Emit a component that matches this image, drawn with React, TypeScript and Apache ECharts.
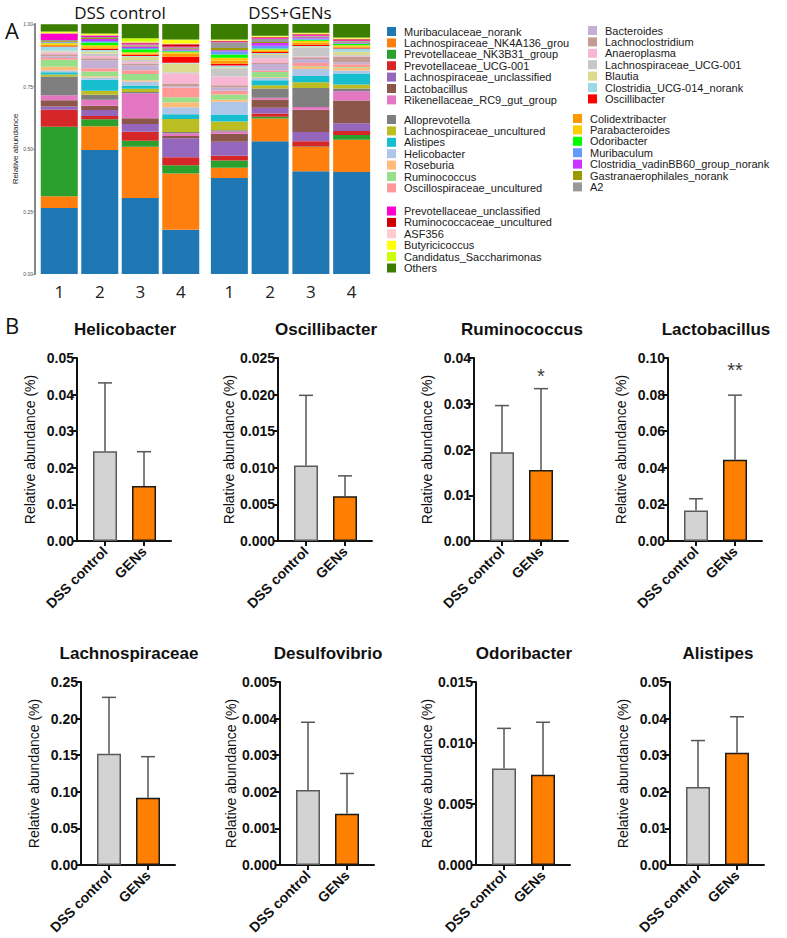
import React, { useEffect, useRef } from 'react';
import * as echarts from 'echarts';

// ---------- Panel A: stacked composition ----------
const taxa = [
  'Muribaculaceae_norank', 'Lachnospiraceae_NK4A136_grou', 'Prevotellaceae_NK3B31_group', 'Prevotellaceae_UCG-001',
  'Lachnospiraceae_unclassified', 'Lactobacillus', 'Rikenellaceae_RC9_gut_group',
  'Alloprevotella', 'Lachnospiraceae_uncultured', 'Alistipes', 'Helicobacter', 'Roseburia', 'Ruminococcus',
  'Oscillospiraceae_uncultured',
  'Bacteroides', 'Lachnoclostridium', 'Anaeroplasma', 'Lachnospiraceae_UCG-001', 'Blautia',
  'Clostridia_UCG-014_norank', 'Oscillibacter',
  'Colidextribacter', 'Parabacteroides', 'Odoribacter', 'Muribaculum', 'Clostridia_vadinBB60_group_norank',
  'Gastranaerophilales_norank', 'A2',
  'Prevotellaceae_unclassified', 'Ruminococcaceae_uncultured', 'ASF356', 'Butyricicoccus',
  'Candidatus_Saccharimonas', 'Others',
];
const taxaColors = [
  '#1f77b4', '#ff7f0e', '#2ca02c', '#d62728', '#9467bd', '#8c564b', '#e377c2',
  '#7f7f7f', '#bcbd22', '#17becf', '#aec7e8', '#ffbb78', '#98df8a', '#ff9896',
  '#c5b0d5', '#c49c94', '#f7b6d2', '#c7c7c7', '#dbdb8d', '#9edae5', '#ff0000',
  '#ff9900', '#ffcc00', '#00ff00', '#6699ff', '#cc33ff', '#999900', '#999999',
  '#ff00cc', '#cc0000', '#ffcccc', '#ffff00', '#ccff00', '#3a7d00',
];
const sampleLabels = ['1', '2', '3', '4'];
const groupTitles = ['DSS control', 'DSS+GENs'];

const dss1 = [0.264, 0.047, 0.278, 0.068, 0.013, 0.025, 0.020,
  0.075, 0.008, 0.009, 0.007, 0.015, 0.028, 0.007,
  0.007, 0.008, 0.008, 0.003, 0.003, 0.016, 0.002,
  0.006, 0.006, 0.002, 0.002, 0.002, 0.003, 0.004,
  0.024, 0.002, 0.002, 0.003, 0.003, 0.029];
const dss2 = [0.496, 0.095, 0.028, 0.013, 0.024, 0.017, 0.024,
  0.020, 0.016, 0.044, 0.009, 0.005, 0.019, 0.013,
  0.032, 0.008, 0.009, 0.010, 0.008, 0.006, 0.005,
  0.006, 0.008, 0.011, 0.006, 0.008, 0.004, 0.004,
  0.004, 0.002, 0.002, 0.003, 0.003, 0.040];
const dss3 = [0.304, 0.205, 0.024, 0.036, 0.031, 0.023, 0.100,
  0.005, 0.013, 0.013, 0.016, 0.005, 0.025, 0.015,
  0.020, 0.007, 0.007, 0.007, 0.013, 0.003, 0.005,
  0.005, 0.005, 0.012, 0.005, 0.006, 0.004, 0.004,
  0.004, 0.003, 0.002, 0.003, 0.013, 0.057];
const dss4 = [0.177, 0.225, 0.033, 0.032, 0.076, 0.009, 0.011,
  0.005, 0.052, 0.019, 0.028, 0.020, 0.020, 0.039,
  0.005, 0.011, 0.040, 0.005, 0.035, 0.003, 0.024,
  0.013, 0.005, 0.004, 0.004, 0.004, 0.004, 0.004,
  0.003, 0.009, 0.003, 0.013, 0.003, 0.062];
const gens1 = [0.384, 0.041, 0.029, 0.019, 0.056, 0.032, 0.009,
  0.005, 0.035, 0.028, 0.051, 0.008, 0.021, 0.015,
  0.013, 0.009, 0.035, 0.033, 0.004, 0.007, 0.007,
  0.013, 0.011, 0.013, 0.013, 0.004, 0.009, 0.023,
  0.003, 0.002, 0.002, 0.002, 0.002, 0.062];
const gens2 = [0.531, 0.091, 0.007, 0.013, 0.023, 0.033, 0.007,
  0.037, 0.013, 0.020, 0.009, 0.003, 0.021, 0.005,
  0.027, 0.004, 0.019, 0.013, 0.004, 0.004, 0.004,
  0.005, 0.005, 0.004, 0.011, 0.011, 0.004, 0.013,
  0.003, 0.003, 0.002, 0.002, 0.002, 0.047];
const gens3 = [0.411, 0.097, 0.002, 0.021, 0.037, 0.089, 0.011,
  0.076, 0.023, 0.025, 0.028, 0.008, 0.003, 0.013,
  0.016, 0.007, 0.003, 0.036, 0.003, 0.003, 0.005,
  0.008, 0.008, 0.004, 0.005, 0.005, 0.003, 0.003,
  0.003, 0.003, 0.002, 0.002, 0.002, 0.035];
const gens4 = [0.408, 0.129, 0.019, 0.016, 0.031, 0.091, 0.037,
  0.011, 0.016, 0.044, 0.012, 0.011, 0.003, 0.011,
  0.007, 0.024, 0.003, 0.003, 0.013, 0.013, 0.003,
  0.005, 0.005, 0.005, 0.003, 0.003, 0.003, 0.003,
  0.003, 0.004, 0.003, 0.002, 0.002, 0.054];
const dssSamples = [dss1, dss2, dss3, dss4];
const gensSamples = [gens1, gens2, gens3, gens4];

// legend blocks: [first index, last index]
const legendBlocks = [
  { x: 387, y: 31.5, from: 0, to: 6 },
  { x: 387, y: 119.5, from: 7, to: 13 },
  { x: 387, y: 211, from: 28, to: 33 },
  { x: 588, y: 30.5, from: 14, to: 20 },
  { x: 573, y: 118.5, from: 21, to: 27 },
];

// ---------- Panel B: bar charts ----------
const panelNames = ['Helicobacter', 'Oscillibacter', 'Ruminococcus', 'Lactobacillus',
  'Lachnospiraceae', 'Desulfovibrio', 'Odoribacter', 'Alistipes'];
const groupLabels = ['DSS control', 'GENs'];
const meanDSS = [0.0245, 0.0103, 0.0194, 0.0167, 0.152, 0.00205, 0.0079, 0.0213];
const errTopDSS = [0.0432, 0.0199, 0.0296, 0.0231, 0.229, 0.0039, 0.0112, 0.0340];
const meanGENs = [0.0150, 0.0061, 0.0155, 0.0444, 0.092, 0.0014, 0.0074, 0.0307];
const errTopGENs = [0.0244, 0.0089, 0.0333, 0.0797, 0.148, 0.0025, 0.0117, 0.0405];
const yMax = [0.05, 0.025, 0.04, 0.10, 0.25, 0.005, 0.015, 0.05];
const yStep = [0.01, 0.005, 0.01, 0.02, 0.05, 0.001, 0.005, 0.01];
const yDecimals = [2, 3, 2, 2, 2, 3, 3, 2];
const sigMarks = ['', '', '*', '**', '', '', '', ''];
const sigHeights = [0, 0, 0.036, 0.0936, 0, 0, 0, 0];

const panelAxisX = [77, 278, 474, 668, 81, 280, 476, 670];
const panelTop = [358, 358, 358, 358, 682, 682, 682, 682];

const ARIAL = '"Liberation Sans", Arial, sans-serif';
const OPEN = '"Open Sans", "DejaVu Sans", sans-serif';

function buildOption(): any {
  const grid: any[] = [];
  const xAxis: any[] = [];
  const yAxis: any[] = [];
  const series: any[] = [];
  const graphic: any[] = [];

  // stacked grids
  grid.push({ left: 39, top: 24, width: 162, height: 250 });
  grid.push({ left: 209, top: 24, width: 163, height: 250 });
  for (let g = 0; g < 2; g++) {
    xAxis.push({
      type: 'category', gridIndex: g, data: sampleLabels,
      axisLine: { show: false }, axisTick: { show: false },
      axisLabel: { fontSize: 17, color: '#222', fontFamily: OPEN, margin: 9 },
    });
    yAxis.push({
      type: 'value', gridIndex: g, min: 0, max: 1, interval: 0.25, show: g === 0,
      offset: 4,
      axisLine: { show: g === 0, lineStyle: { color: '#888', width: 2 } },
      axisTick: { show: g === 0, length: 2, lineStyle: { color: '#888' } },
      axisLabel: { show: g === 0, fontSize: 5, color: '#4d4d4d', margin: 2, fontFamily: ARIAL,
        formatter: (v: number) => v.toFixed(2) },
      splitLine: { show: false },
      name: g === 0 ? 'Relative abundance' : '',
      nameLocation: 'middle', nameGap: 15,
      nameTextStyle: { fontSize: 8, color: '#222', fontFamily: ARIAL },
    });
  }
  const groups = [dssSamples, gensSamples];
  groups.forEach((samples, g) => {
    taxa.forEach((name, i) => {
      series.push({
        type: 'bar', name, xAxisIndex: g, yAxisIndex: g, stack: 'grp' + g,
        barWidth: 37,
        data: samples.map((s) => s[i]),
        itemStyle: { color: taxaColors[i] },
      });
    });
  });

  // panels
  panelNames.forEach((name, p) => {
    const gi = p + 2;
    grid.push({ left: panelAxisX[p], top: panelTop[p], width: 94, height: 183 });
    xAxis.push({
      type: 'value', gridIndex: gi, min: -0.718, max: 1.692,
      axisLine: { show: true, onZero: false, lineStyle: { color: '#111', width: 2 } },
      axisTick: { show: true, customValues: [0, 1], length: 5, lineStyle: { color: '#111', width: 2 } },
      axisLabel: {
        show: true, customValues: [0, 1], rotate: 45, margin: 8,
        fontSize: 14, fontWeight: 'bold', color: '#111', fontFamily: ARIAL,
        formatter: (v: number) => groupLabels[Math.round(v)] ?? '',
      },
      splitLine: { show: false },
    });
    yAxis.push({
      type: 'value', gridIndex: gi, min: 0, max: yMax[p], interval: yStep[p],
      axisLine: { show: true, onZero: false, lineStyle: { color: '#111', width: 2 } },
      axisTick: { show: true, length: 5, lineStyle: { color: '#111', width: 2 } },
      axisLabel: {
        fontSize: 14, fontWeight: 'bold', color: '#111', fontFamily: ARIAL, margin: 3,
        formatter: (v: number) => v.toFixed(yDecimals[p]),
      },
      splitLine: { show: false },
      name: 'Relative abundance (%)', nameLocation: 'middle', nameGap: 40,
      nameTextStyle: { fontSize: 14, color: '#111', fontFamily: ARIAL },
    });
    series.push({
      type: 'bar', xAxisIndex: gi, yAxisIndex: gi, barWidth: 24,
      data: [
        { value: [0, meanDSS[p]], itemStyle: { color: '#d3d3d3', borderColor: '#5a5a5a', borderWidth: 1.5 } },
        { value: [1, meanGENs[p]], itemStyle: { color: '#ff7f00', borderColor: '#1a1a1a', borderWidth: 1.5 } },
      ],
    });
    series.push({
      type: 'custom', xAxisIndex: gi, yAxisIndex: gi, z: 5,
      encode: { x: 0, y: [1, 2] },
      data: [[0, meanDSS[p], errTopDSS[p]], [1, meanGENs[p], errTopGENs[p]]],
      renderItem: (_params: any, api: any) => {
        const x = api.value(0);
        const lo = api.coord([x, api.value(1)]);
        const hi = api.coord([x, api.value(2)]);
        const st = { stroke: '#555', lineWidth: 1.5 };
        return {
          type: 'group',
          children: [
            { type: 'line', shape: { x1: lo[0], y1: lo[1], x2: hi[0], y2: hi[1] }, style: st },
            { type: 'line', shape: { x1: hi[0] - 7, y1: hi[1], x2: hi[0] + 7, y2: hi[1] }, style: st },
          ],
        };
      },
    });
    if (sigMarks[p]) {
      series.push({
        type: 'scatter', xAxisIndex: gi, yAxisIndex: gi, symbolSize: 1,
        itemStyle: { color: 'rgba(0,0,0,0)' },
        data: [[1, sigHeights[p]]],
        label: { show: true, position: 'inside', formatter: sigMarks[p], fontSize: 20, color: '#000', fontFamily: ARIAL },
      });
    }
    graphic.push({
      type: 'text', x: panelAxisX[p] + 48, y: panelTop[p] - 29,
      style: { text: name, align: 'center', verticalAlign: 'middle', fontSize: 17, fontWeight: 'bold', fontFamily: ARIAL, fill: '#111' },
    });
  });

  // group titles & panel letters
  graphic.push({ type: 'text', x: 120, y: 12, style: { text: groupTitles[0], align: 'center', verticalAlign: 'middle', fontSize: 17, fontFamily: OPEN, fill: '#111' } });
  graphic.push({ type: 'text', x: 290, y: 12, style: { text: groupTitles[1], align: 'center', verticalAlign: 'middle', fontSize: 17, fontFamily: OPEN, fill: '#111' } });
  graphic.push({ type: 'text', x: 5, y: 30, style: { text: 'A', verticalAlign: 'middle', fontSize: 22, fontFamily: OPEN, fill: '#111' } });
  graphic.push({ type: 'text', x: 5, y: 325, style: { text: 'B', verticalAlign: 'middle', fontSize: 22, fontFamily: OPEN, fill: '#111' } });

  // legend
  legendBlocks.forEach((b) => {
    for (let i = b.from; i <= b.to; i++) {
      const cy = b.y + (i - b.from) * 11.4;
      graphic.push({ type: 'rect', shape: { x: b.x, y: cy - 4.5, width: 9, height: 9 }, style: { fill: taxaColors[i] } });
      graphic.push({ type: 'text', x: b.x + 17, y: cy, style: { text: taxa[i], verticalAlign: 'middle', fontSize: 11, fontFamily: ARIAL, fill: '#1a1a1a' } });
    }
  });

  return { animation: false, backgroundColor: '#fff', grid, xAxis, yAxis, series, graphic };
}

export default function App() {
  const ref = useRef<HTMLDivElement>(null);
  useEffect(() => {
    if (!ref.current) return;
    const chart = echarts.init(ref.current, null, { renderer: 'svg' });
    chart.setOption(buildOption());
    return () => chart.dispose();
  }, []);
  return <div ref={ref} style={{ position: 'absolute', left: 0, top: 0, width: 787, height: 938 }} />;
}
